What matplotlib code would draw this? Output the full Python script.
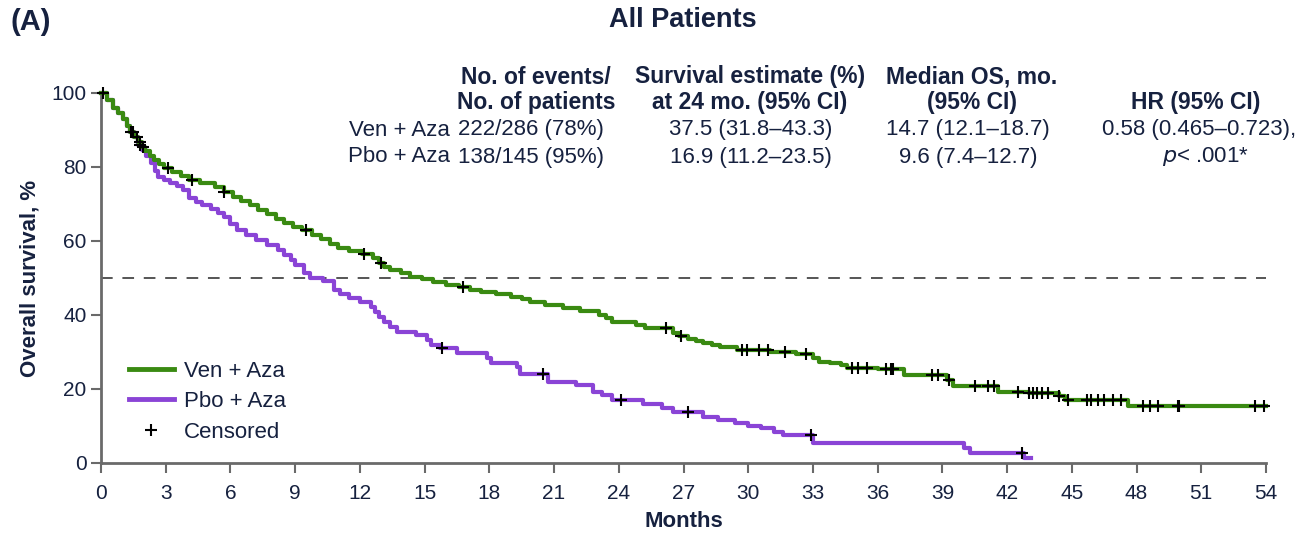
import numpy as np
import matplotlib.pyplot as plt
from matplotlib.lines import Line2D

plt.rcParams["font.family"] = ["Liberation Sans", "DejaVu Sans"]

NAVY = "#16213f"
GREEN = "#3a8a12"
PURPLE = "#8a44d6"
GRAY = "#6a6a6a"

# Kaplan-Meier steps: time (months) at which survival drops to the given value
ven_t = [0, 0.3, 0.55, 0.8, 1.0, 1.2, 1.35, 1.55, 1.7, 1.9, 2.05, 2.25, 2.45, 2.7,
         2.9, 3.3, 3.7, 4.1, 4.6, 5.3, 5.7, 6.1, 6.5, 6.9, 7.3, 7.7, 8.1, 8.5, 8.9,
         9.3, 9.8, 10.2, 10.6, 11.0, 11.5, 12.1, 12.6, 12.9, 13.1, 13.4, 13.9,
         14.3, 14.9, 15.4, 16.0, 16.6, 17.1, 17.6, 18.3, 19.0, 19.5, 19.9, 20.6,
         21.4, 22.2, 23.1, 23.4, 23.7, 24.8, 25.2, 26.5, 26.8, 27.2, 27.6, 27.9,
         28.3, 28.7, 29.5, 31.0, 32.2, 33.0, 33.3, 33.8, 34.3, 34.6, 36.0, 37.2,
         39.2, 39.5, 41.6, 43.0, 44.4, 44.7, 47.6, 54.0]
ven_s = [100, 98, 96, 94.5, 93, 91, 89.5, 88, 86.8, 85.5, 84.3, 83, 81.8, 80.8,
         79.6, 78.6, 77.6, 76.6, 75.8, 74.5, 73.2, 72.0, 70.8, 69.6, 68.4, 67.2,
         66.0, 64.8, 63.7, 62.9, 61.5, 60.5, 59.2, 58.2, 57.4, 56.6, 55.4, 54.0,
         53.0, 52.2, 51.3, 50.4, 49.6, 48.9, 48.1, 47.5, 46.8, 46.2, 45.6, 44.9,
         44.2, 43.5, 42.7, 41.9, 41.2, 40.0, 39.1, 38.1, 37.3, 36.5, 35.1, 34.2,
         33.5, 32.9, 32.4, 31.9, 31.4, 30.5, 30.0, 29.4, 28.3, 27.3, 26.9, 26.5,
         25.7, 25.4, 23.8, 22.4, 20.8, 19.2, 18.8, 18.0, 17.0, 15.3, 15.3]
ven_cens = [0.1, 1.4, 1.5, 1.65, 1.8, 1.95, 3.1, 4.2, 5.7, 9.5, 12.2, 13.0, 16.8,
            26.2, 26.9, 29.7, 29.95, 30.5, 30.9, 31.7, 32.7, 34.8, 35.1, 35.5,
            36.4, 36.6, 36.7, 38.5, 38.8, 39.3, 40.5, 41.1, 41.4, 42.5, 43.0,
            43.2, 43.4, 43.6, 43.9, 44.4, 44.8, 45.7, 45.9, 46.2, 46.5, 46.9,
            47.3, 48.3, 48.6, 49.0, 49.9, 49.95, 53.5, 53.9]

pbo_t = [0, 0.3, 0.55, 0.8, 1.0, 1.2, 1.35, 1.55, 1.7, 1.9, 2.1, 2.3, 2.5, 2.65,
         2.9, 3.2, 3.5, 3.8, 4.1, 4.4, 4.7, 5.1, 5.4, 5.7, 6.0, 6.3, 6.7, 7.2,
         7.7, 8.2, 8.5, 8.8, 9.0, 9.4, 9.7, 10.3, 10.8, 11.1, 11.5, 12.0, 12.5,
         12.7, 12.9, 13.1, 13.4, 13.7, 14.6, 15.1, 15.3, 15.7, 16.5, 17.9, 18.1,
         19.3, 19.4, 20.7, 22.0, 22.8, 23.2, 23.7, 25.1, 26.0, 26.5, 27.9, 28.6,
         29.4, 30.0, 30.6, 31.2, 31.6, 33.0, 40.0, 40.3, 42.8, 43.1]
pbo_s = [100, 98, 96, 94.5, 93, 91, 89.5, 88, 86, 84.5, 83, 81, 79, 77.3, 76.5,
         75.7, 74.8, 73.8, 71.6, 70.5, 69.7, 68.6, 67.5, 66.5, 64.5, 63.0, 61.6,
         60.3, 59.0, 57.6, 56.2, 54.9, 53.5, 51.4, 50.0, 49.3, 46.8, 45.7, 44.6,
         43.4, 42.2, 40.8, 39.5, 38.2, 36.8, 35.4, 34.6, 33.3, 31.9, 31.1, 29.7,
         28.4, 27.0, 25.9, 24.0, 21.9, 21.0, 19.2, 18.4, 16.9, 15.9, 14.8, 13.8,
         12.4, 11.6, 10.8, 10.0, 9.5, 8.5, 7.6, 5.4, 4.0, 2.7, 1.4, 1.4]
pbo_cens = [1.8, 15.8, 20.5, 24.1, 27.2, 32.9, 42.7]

x_ticks = list(range(0, 55, 3))
y_ticks = [0, 20, 40, 60, 80, 100]

head_events = ["No. of events/", "No. of patients"]
head_surv = ["Survival estimate (%)", "at 24 mo. (95% CI)"]
head_median = ["Median OS, mo.", "(95% CI)"]
head_hr = "HR (95% CI)"
arms = ["Ven + Aza", "Pbo + Aza"]
events = ["222/286 (78%)", "138/145 (95%)"]
surv24 = ["37.5 (31.8\u201343.3)", "16.9 (11.2\u201323.5)"]
median_os = ["14.7 (12.1\u201318.7)", "9.6 (7.4\u201312.7)"]
hr_text = "0.58 (0.465\u20130.723),"


def step_value(t, s, x):
    i = np.searchsorted(t, x, side="right") - 1
    return np.asarray(s)[i]


fig = plt.figure(figsize=(13.02, 5.33), dpi=100)
ax = fig.add_axes([101 / 1302, 1 - 463 / 533, 1165 / 1302, 370 / 533])

ax.axhline(50, color="#555555", lw=1.4, dashes=(6, 5), zorder=1)

ax.step(ven_t, ven_s, where="post", color=GREEN, lw=3.0, clip_on=False, zorder=3)
ax.step(pbo_t, pbo_s, where="post", color=PURPLE, lw=3.0, clip_on=False, zorder=2)
ax.plot(ven_cens, step_value(ven_t, ven_s, ven_cens), "+", color="black",
        ms=9, mew=1.5, clip_on=False, zorder=4)
ax.plot(pbo_cens, step_value(pbo_t, pbo_s, pbo_cens), "+", color="black",
        ms=9, mew=1.5, clip_on=False, zorder=4)

ax.set_xlim(0, 54)
ax.set_ylim(0, 100)
ax.set_xticks(x_ticks)
ax.set_yticks(y_ticks)
ax.tick_params(colors=GRAY, labelcolor=NAVY, length=7, width=1.5, labelsize=15)
ax.tick_params(axis="x", pad=8)
for side in ["top", "right"]:
    ax.spines[side].set_visible(False)
for side in ["left", "bottom"]:
    ax.spines[side].set_color(GRAY)
    ax.spines[side].set_linewidth(2)

ax.set_xlabel("Months", fontsize=16, fontweight="bold", color=NAVY, labelpad=6)
ax.set_ylabel("Overall survival, %", fontsize=16, fontweight="bold", color=NAVY,
              labelpad=8)

handles = [Line2D([], [], color=GREEN, lw=3.5),
           Line2D([], [], color=PURPLE, lw=3.5),
           Line2D([], [], color="black", marker="+", ls="none", ms=8, mew=1.5)]
leg = ax.legend(handles, ["Ven + Aza", "Pbo + Aza", "Censored"], loc="upper left",
                bbox_to_anchor=(0.007, 0.33), frameon=False, fontsize=16,
                handlelength=2.0, labelspacing=0.42, handletextpad=0.45)
for txt in leg.get_texts():
    txt.set_color(NAVY)

# titles
fig.text(10 / 1302, 1 - 22 / 533, "(A)", fontsize=21, fontweight="bold",
         color=NAVY, va="center")
fig.text(683 / 1302, 1 - 20 / 533, "All Patients", fontsize=19.5,
         fontweight="bold", color=NAVY, ha="center", va="center")


# table
def ft(x, y, s, size=16, **kw):
    fig.text(x / 1302, 1 - y / 533, s, color=NAVY, va="center", fontsize=size, **kw)


for i, line in enumerate(head_events):
    ft(536, 77 + 26 * i, line, size=16.5, ha="center", fontweight="bold")
for i, line in enumerate(head_surv):
    ft(750, 77 + 26 * i, line, size=16.5, ha="center", fontweight="bold")
for i, line in enumerate(head_median):
    ft(972, 77 + 26 * i, line, size=16.5, ha="center", fontweight="bold")
ft(1196, 103, head_hr, size=16.5, ha="center", fontweight="bold")

for i in range(2):
    y = 130 + 27 * i
    ft(450, y, arms[i], ha="right")
    ft(458, y, events[i], ha="left")
    ft(751, y, surv24[i], ha="center")
    ft(968, y, median_os[i], ha="center")
ft(1199, 130, hr_text, ha="center")
ft(1205, 157, "$\\it{p}$< .001*", ha="center")

fig.savefig("out.png", dpi=100)
